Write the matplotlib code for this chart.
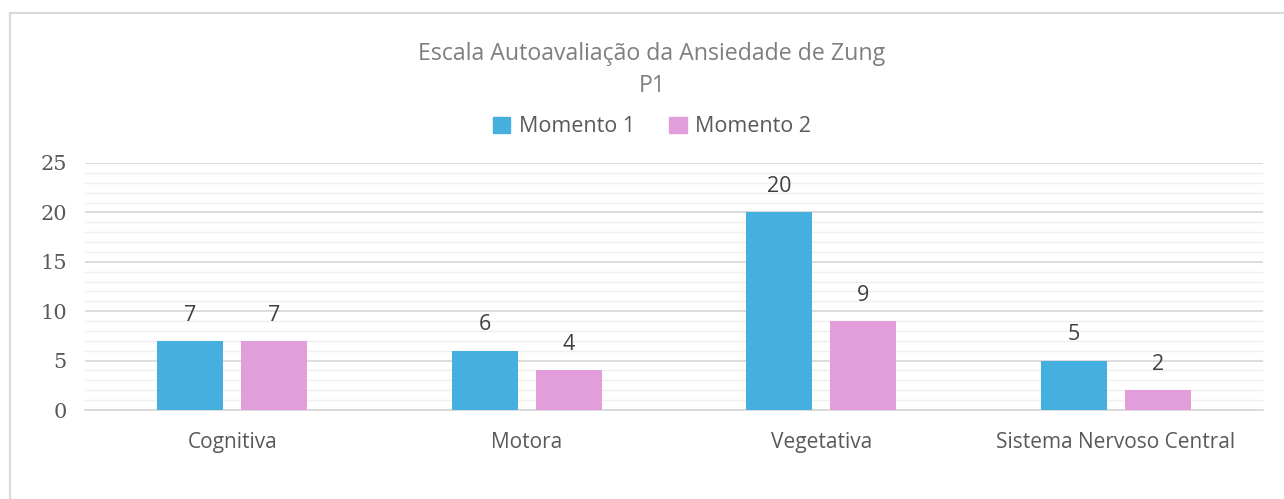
import numpy as np
import matplotlib
matplotlib.use('Agg')
import matplotlib.pyplot as plt
from matplotlib.lines import Line2D
from matplotlib.patches import Patch

# data
categories = ['Cognitiva', 'Motora', 'Vegetativa', 'Sistema Nervoso Central']
momento1 = [7, 6, 20, 5]
momento2 = [7, 4, 9, 2]
series_names = ['Momento 1', 'Momento 2']
yticks = [0, 5, 10, 15, 20, 25]

blue = '#45AFDF'
pink = '#E29EDA'
sans = 'Open Sans'

W, H = 1284, 499
fig = plt.figure(figsize=(W / 100, H / 100), dpi=100)
fig.patch.set_facecolor('white')

# light frame of the chart area (only left and top visible)
fig.add_artist(Line2D([10 / W, 10 / W], [0, 1 - 13 / H], transform=fig.transFigure, color='#D9D9D9', lw=1.5))
fig.add_artist(Line2D([10 / W, 1], [1 - 13 / H, 1 - 13 / H], transform=fig.transFigure, color='#D9D9D9', lw=1.5))

ax = fig.add_axes([85 / W, (H - 410) / H, (1263 - 85) / W, 247 / H])

x = np.arange(len(categories))
bw = 0.225
off = 0.143
b1 = ax.bar(x - off, momento1, bw, color=blue, zorder=3)
b2 = ax.bar(x + off, momento2, bw, color=pink, zorder=3)

for bars in (b1, b2):
    for rect in bars:
        h = rect.get_height()
        ax.annotate(str(int(h)), (rect.get_x() + rect.get_width() / 2, h),
                    xytext=(0, 11), textcoords='offset points', ha='center', va='bottom',
                    fontsize=15.5, color='#404040', family=sans)

ax.set_xlim(-0.5, len(categories) - 0.5)
ax.set_ylim(0, 25)
ax.set_yticks(yticks)
ax.set_yticks(np.arange(0, 26, 1), minor=True)
ax.yaxis.grid(True, which='major', color='#D9D9D9', lw=1.3, zorder=0)
ax.yaxis.grid(True, which='minor', color='#EFEFEF', lw=1.0, zorder=0)
ax.set_axisbelow(True)

ax.set_xticks(x)
ax.set_xticklabels(categories, fontsize=15, color='#595959', family=sans)
ax.set_yticklabels([str(t) for t in yticks], fontsize=15, color='#595959', family='DejaVu Serif')
ax.tick_params(axis='both', which='both', length=0)
ax.tick_params(axis='x', pad=16)
ax.tick_params(axis='y', pad=13)

for s in ['top', 'right', 'left']:
    ax.spines[s].set_visible(False)
ax.spines['bottom'].set_color('#D9D9D9')
ax.spines['bottom'].set_linewidth(1.3)

fig.text(652 / W, 1 - 54 / H, 'Escala Autoavaliação da Ansiedade de Zung', ha='center', va='center',
         fontsize=16.7, color='#7F7F7F', family=sans)
fig.text(652 / W, 1 - 86 / H, 'P1', ha='center', va='center', fontsize=16.7, color='#7F7F7F', family=sans)

handles = [Patch(color=blue), Patch(color=pink)]
fig.legend(handles, series_names, loc='center', bbox_to_anchor=(652 / W, 1 - 127 / H), ncol=2,
           frameon=False, prop={'family': sans, 'size': 15.5}, labelcolor='#595959',
           handlelength=0.8, handleheight=0.8, handletextpad=0.4, columnspacing=1.6)

fig.savefig('out.png', dpi=100)
